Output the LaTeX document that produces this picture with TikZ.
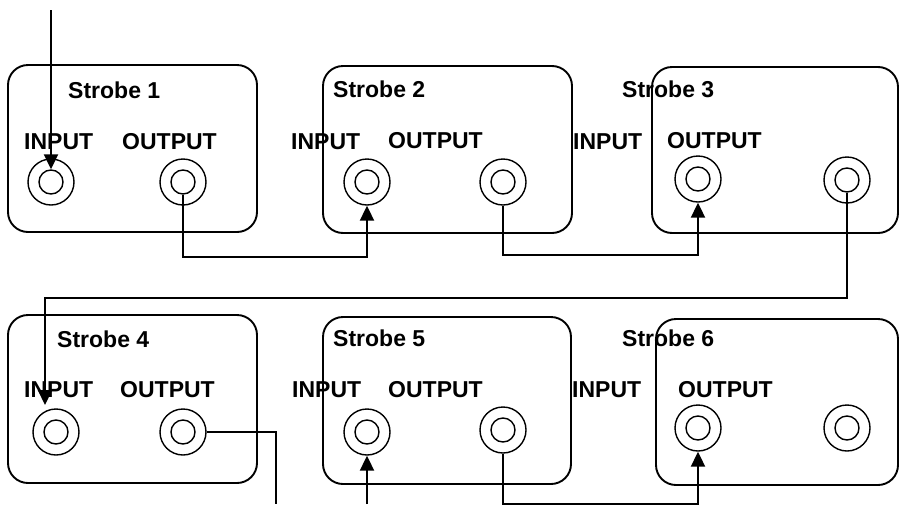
\documentclass[tikz,border=0pt]{standalone}
\usepackage{fontspec}
\setmainfont{Liberation Sans}
\usetikzlibrary{arrows.meta}

\begin{document}
\begin{tikzpicture}[x=1pt, y=-1pt, >={Triangle[length=15pt, width=14pt]},
            panel/.style={line width=1.9pt, rounded corners=20pt},
            jack/.style={circle, draw, line width=1.4pt, inner sep=0pt, minimum size=46pt},
            hole/.style={circle, draw, line width=1.4pt, inner sep=0pt, minimum size=24pt},
            lbl/.style={anchor=base west, inner sep=0pt, font=\fontsize{23}{27}\selectfont\bfseries},
            wire/.style={line width=2.1pt}]
            \useasboundingbox (0, 0) rectangle (900, 504);
            % strobe panels
            \foreach \l/\t/\r/\b in {8/65/257/232, 323/66/572/233, 652/67/898/233,
                    8/315/257/483, 323/317/571/484, 656/319/898/485}
                \draw[panel] (\l, \t) rectangle (\r, \b);
            % sockets
            \foreach \n/\x/\y in {1a/51/182, 1b/183/182, 2a/367/182, 2b/503/182,
                    3a/698/179, 3b/847/180, 4a/56/432, 4b/183/432,
                    5a/367/432, 5b/503/430, 6a/698/428, 6b/847/428} {
                \node[jack] (j\n) at (\x, \y) {};
                \node[hole] (h\n) at (\x, \y) {};
            }
            % labels
            \foreach \n/\x/\y in {1/68/98, 2/333/97, 3/622/97, 4/57/347, 5/333/346, 6/622/346}
                \node[lbl] (s\n) at (\x, \y) {Strobe \n};
            \foreach \n/\x/\y in {1/24/149, 2/291/149, 3/573/149, 4/24/397, 5/292/397, 6/572/397}
                \node[lbl] (in\n) at (\x, \y) {INPUT};
            \foreach \n/\x/\y in {1/122/149, 2/388/148, 3/667/148, 4/120/397, 5/388/397, 6/678/397}
                \node[lbl] (out\n) at (\x, \y) {OUTPUT};
            % wiring
            \coordinate (src) at (51, 10);
            \coordinate (t4) at (45, 405);
            \coordinate (d4) at (276, 504);
            \coordinate (u5) at (367, 504);
            \draw[wire, ->] (src) -- (h1a.north);
            \draw[wire, ->] (h1b.south) -- ++(0, 62) -| (j2a.south);
            \draw[wire, ->] (j2b.south) -- ++(0, 49) -| (j3a.south);
            \draw[wire, ->] (h3b.south) -- ++(0, 105) -| (t4);
            \draw[wire] (j4b.east) -| (d4);
            \draw[wire, ->] (u5) -- (j5a.south);
            \draw[wire, ->] (j5b.south) -- ++(0, 50) -| (j6a.south);
        \end{tikzpicture}
\end{document}
